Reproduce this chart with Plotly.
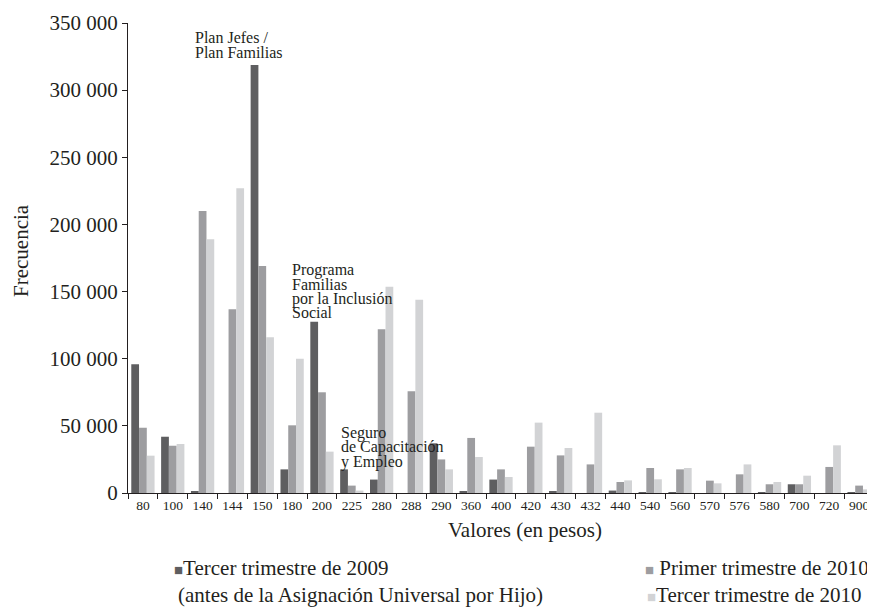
import plotly.graph_objects as go

categories = ["80", "100", "140", "144", "150", "180", "200", "225", "280", "288", "290",
              "360", "400", "420", "430", "432", "440", "540", "560", "570", "576", "580",
              "700", "720", "900"]
tercer_2009 = [95800, 41900, 1000, 0, 318700, 17600, 127600, 17600, 10000, 0, 37000,
               1000, 10000, 0, 1000, 0, 1800, 700, 700, 0, 0, 700, 6500, 0, 700]
primer_2010 = [48600, 35200, 210000, 136800, 169000, 50400, 75000, 5500, 122000, 75700, 25000,
               41000, 17600, 34500, 28000, 21300, 8200, 18600, 17600, 9200, 13900, 6500,
               6500, 19400, 5500]
tercer_2010 = [27800, 36500, 189000, 226900, 116000, 100000, 30800, 1800, 153600, 144000, 17600,
               26800, 11900, 52400, 33500, 59800, 9400, 10200, 18600, 7200, 21300, 8200,
               12900, 35500, 2700]
y_ticks = [0, 50000, 100000, 150000, 200000, 250000, 300000, 350000]
y_tick_labels = ["0", "50 000", "100 000", "150 000", "200 000", "250 000", "300 000", "350 000"]

series_names = ["Tercer trimestre de 2009", "Primer trimestre de 2010", "Tercer trimestre de 2010"]
colors = ["#5e5e60", "#9d9da0", "#d2d3d5"]
FONT = "Liberation Serif"
TXT = "#231f20"

# the page body adds an 8px offset; size the figure to fill the rest of the window
OFF = 8
W, H = 875 - OFF, 614 - OFF
L, T = 128 - OFF, 23 - OFF
R = W - (874 - OFF)
B = H - (493 - OFF)
pw, ph = W - L - R, H - T - B


def px2paper(px, py):
    """Convert a position in window pixels to paper coordinates."""
    return (px - OFF - L) / pw, 1 - (py - OFF - T) / ph


fig = go.Figure()
for name, vals, col in zip(series_names, [tercer_2009, primer_2010, tercer_2010], colors):
    fig.add_trace(go.Bar(x=categories, y=vals, name=name,
                         marker=dict(color=col, line=dict(width=0)), showlegend=False))

fig.update_layout(
    width=W, height=H,
    margin=dict(l=L, r=R, t=T, b=B, autoexpand=False),
    paper_bgcolor="white", plot_bgcolor="white",
    barmode="group", bargap=0.22, bargroupgap=0,
    font=dict(family=FONT, color=TXT),
)
fig.update_yaxes(
    range=[0, 350000], tickvals=y_ticks, ticktext=y_tick_labels, automargin=False,
    showgrid=False, zeroline=False, showline=True, linecolor=TXT, linewidth=1.2,
    ticks="outside", ticklen=5, tickcolor=TXT, tickfont=dict(size=21, family=FONT, color=TXT),
)
fig.update_xaxes(
    type="category", showgrid=False, showline=True, linecolor=TXT, linewidth=1.2,
    automargin=False, ticks="outside", ticklen=5, tickcolor=TXT, tickson="boundaries",
    tickfont=dict(size=13.5, family=FONT, color=TXT), tickangle=0,
)

# axis titles
x, y = px2paper(21, 250)
fig.add_annotation(x=x, y=y, xref="paper", yref="paper", text="Frecuencia", textangle=-90,
                   showarrow=False, xanchor="center", yanchor="middle",
                   font=dict(size=21, family=FONT, color=TXT))
x, y = px2paper(525, 530)
fig.add_annotation(x=x, y=y, xref="paper", yref="paper", text="Valores (en pesos)",
                   showarrow=False, xanchor="center", yanchor="middle",
                   font=dict(size=21, family=FONT, color=TXT))

# program labels (one annotation per line for tight leading)
ann_font = dict(size=16, family=FONT, color=TXT)
program_labels = [
    (193, 38, ["Plan Jefes /", "Plan Familias"]),
    (290, 270, ["Programa", "Familias", "por la Inclusión", "Social"]),
    (339, 433, ["Seguro", "de Capacitación", "y Empleo"]),
]
for px, py, lines in program_labels:
    for i, line in enumerate(lines):
        x, y = px2paper(px, py + i * 14.3)
        fig.add_annotation(x=x, y=y, xref="paper", yref="paper", text=line, showarrow=False,
                           xanchor="left", yanchor="middle", font=ann_font)

# legend built as text
leg_font = dict(size=21, family=FONT, color=TXT)
legend_items = [
    (172, 568, f"<span style='color:{colors[0]};font-size:15px'>■</span>Tercer trimestre de 2009"),
    (176, 595, "(antes de la Asignación Universal por Hijo)"),
    (643, 568, f"<span style='color:{colors[1]};font-size:15px'>■</span> Primer trimestre de 2010"),
    (645, 595, f"<span style='color:{colors[2]};font-size:15px'>■</span>Tercer trimestre de 2010"),
]
for px, py, txt in legend_items:
    x, y = px2paper(px, py)
    fig.add_annotation(x=x, y=y, xref="paper", yref="paper", text=txt, showarrow=False,
                       align="left", xanchor="left", yanchor="middle", font=leg_font)

fig.write_html("out.html")
